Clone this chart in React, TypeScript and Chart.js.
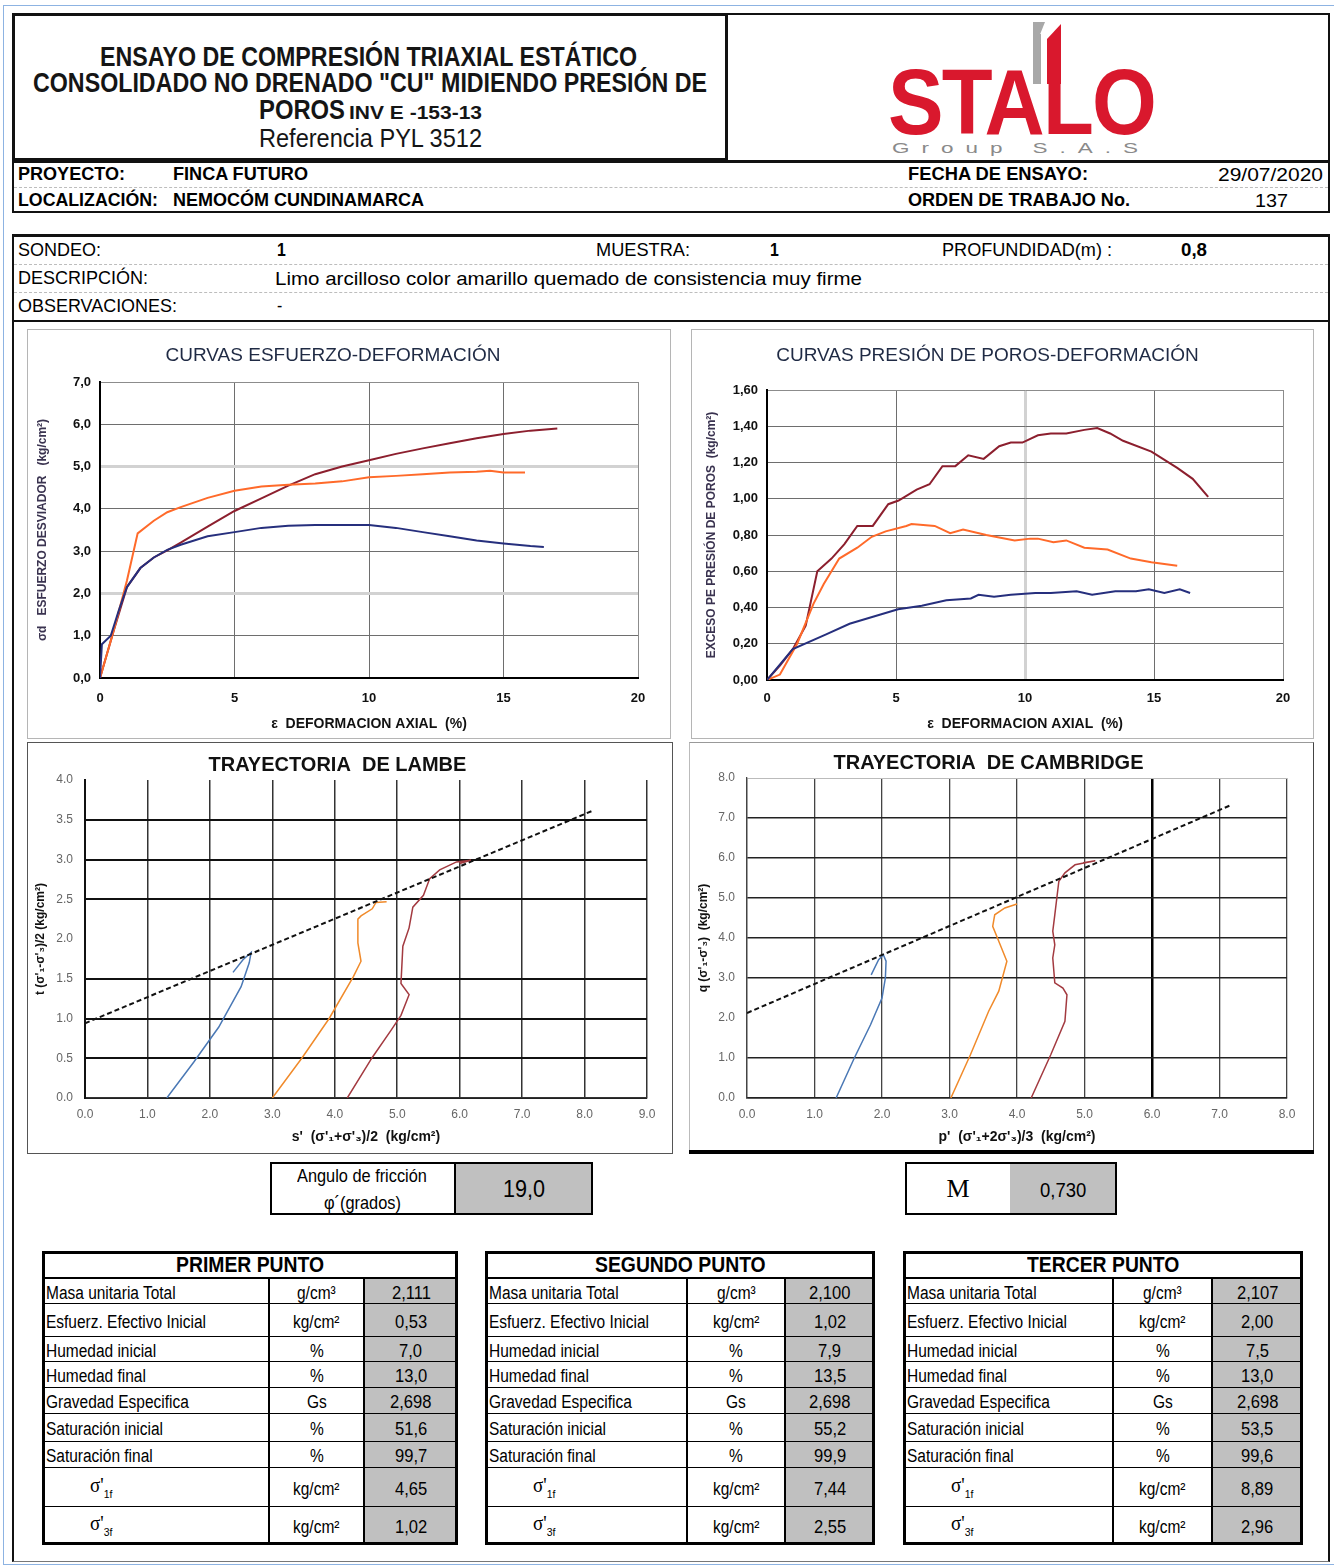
import React, { useEffect, useLayoutEffect, useRef } from "react";
import { Chart, registerables } from "chart.js";
Chart.register(...registerables);

const SANS = '"Liberation Sans", Arial, Helvetica, sans-serif';
const SERIF = '"Liberation Serif", "DejaVu Serif", serif';

// ---------------- DATA ----------------
// Curvas esfuerzo-deformación (ε %, σd kg/cm²)
const esfX1 = [0, 0.07, 0.4, 0.7, 1.0, 1.5, 2, 2.5, 3, 4, 5, 6, 7, 8, 9, 10, 11, 12, 13, 14, 15, 16, 16.5];
const esfY1 = [0, 0.8, 1.0, 1.6, 2.15, 2.6, 2.85, 3.03, 3.15, 3.35, 3.45, 3.55, 3.6, 3.62, 3.62, 3.62, 3.55, 3.45, 3.35, 3.25, 3.18, 3.12, 3.1];
const esfX2 = [0, 0.5, 1.0, 1.4, 2, 2.5, 3, 4, 5, 6, 7, 8, 9, 10, 11, 12, 13, 14, 14.5, 15, 15.8];
const esfY2 = [0, 1.1, 2.3, 3.42, 3.72, 3.92, 4.04, 4.26, 4.43, 4.53, 4.57, 4.6, 4.65, 4.75, 4.78, 4.82, 4.86, 4.88, 4.9, 4.86, 4.86];
const esfX3 = [0, 0.5, 1, 1.5, 2, 2.5, 3, 4, 5, 6, 7, 8, 9, 10, 11, 12, 13, 14, 15, 16, 17];
const esfY3 = [0, 1.1, 2.15, 2.6, 2.85, 3.02, 3.2, 3.58, 3.95, 4.25, 4.55, 4.82, 5.0, 5.15, 5.3, 5.43, 5.55, 5.67, 5.77, 5.85, 5.9];

// Curvas presión de poros-deformación (ε %, Δu kg/cm²)
const porX1 = [0, 1, 2.27, 3.2, 4.14, 5.08, 6, 6.95, 7.9, 8.2, 8.8, 9.45, 10.4, 11, 12, 12.6, 13.5, 14.3, 14.8, 15.4, 16, 16.4];
const porY1 = [0, 0.17, 0.25, 0.31, 0.35, 0.39, 0.41, 0.44, 0.45, 0.47, 0.46, 0.47, 0.48, 0.48, 0.49, 0.47, 0.49, 0.49, 0.5, 0.48, 0.5, 0.48];
const porX2 = [0, 0.5, 1.17, 1.8, 2.2, 2.8, 3.5, 4.06, 4.6, 5.4, 5.6, 6.5, 7.1, 7.6, 8.5, 9.6, 10.2, 10.5, 11.1, 11.6, 12.3, 13.2, 14.1, 14.9, 15.9];
const porY2 = [0, 0.03, 0.2, 0.42, 0.53, 0.67, 0.73, 0.79, 0.82, 0.85, 0.86, 0.85, 0.81, 0.83, 0.8, 0.77, 0.78, 0.78, 0.76, 0.77, 0.73, 0.72, 0.67, 0.65, 0.63];
const porX3 = [0, 0.5, 1, 1.5, 1.95, 2.5, 3, 3.5, 4.1, 4.7, 5.1, 5.8, 6.3, 6.8, 7.3, 7.8, 8.4, 9, 9.45, 9.9, 10.5, 11, 11.6, 12.3, 12.8, 13.3, 13.8, 14.9, 15.9, 16.5, 17.1];
const porY3 = [0, 0.08, 0.17, 0.3, 0.6, 0.67, 0.75, 0.85, 0.85, 0.97, 0.99, 1.05, 1.08, 1.18, 1.18, 1.24, 1.22, 1.29, 1.31, 1.31, 1.35, 1.36, 1.36, 1.38, 1.39, 1.36, 1.32, 1.26, 1.17, 1.11, 1.01];

// Trayectoria de Lambe (s', t)
const lambeKfS = [0, 8.15];
const lambeKfT = [0.94, 3.62];
const lambeS1 = [1.31, 1.74, 2.14, 2.5, 2.63, 2.66, 2.53, 2.37];
const lambeT1 = [0, 0.45, 0.89, 1.4, 1.7, 1.83, 1.74, 1.58];
const lambeS2 = [3.0, 3.48, 3.91, 4.3, 4.42, 4.37, 4.37, 4.42, 4.6, 4.66, 4.83];
const lambeT2 = [0, 0.51, 1.0, 1.53, 1.72, 1.95, 2.25, 2.29, 2.38, 2.46, 2.47];
const lambeS3 = [4.2, 4.6, 4.9, 5.06, 5.19, 5.06, 5.09, 5.19, 5.25, 5.42, 5.52, 5.68, 5.95, 6.18, 6.0];
const lambeT3 = [0, 0.51, 0.85, 1.04, 1.3, 1.44, 1.91, 2.14, 2.4, 2.55, 2.76, 2.87, 2.97, 2.99, 2.95];

// Trayectoria de Cambridge (p', q)
const camKfP = [0, 7.18];
const camKfQ = [2.125, 7.33];
const camP1 = [1.32, 1.59, 1.83, 2.0, 2.05, 2.06, 2.02, 1.95, 1.84];
const camQ1 = [0, 1.0, 1.83, 2.5, 3.0, 3.42, 3.58, 3.46, 3.08];
const camP2 = [3.02, 3.31, 3.58, 3.73, 3.85, 3.73, 3.64, 3.67, 3.82, 4.0];
const camQ2 = [0, 1.08, 2.17, 2.67, 3.42, 3.92, 4.29, 4.58, 4.75, 4.85];
const camP3 = [4.21, 4.5, 4.71, 4.74, 4.68, 4.56, 4.53, 4.56, 4.53, 4.56, 4.59, 4.62, 4.71, 4.86, 5.16, 4.98];
const camQ3 = [0, 1.08, 1.92, 2.58, 2.75, 2.88, 3.5, 3.83, 4.17, 4.58, 5.0, 5.42, 5.63, 5.83, 5.93, 5.88];

// Tablas
const rowLabels = ["Masa unitaria Total", "Esfuerz. Efectivo  Inicial", "Humedad inicial", "Humedad final", "Gravedad Especifica", "Saturación inicial", "Saturación final"];
const sigmaSubs = ["1f", "3f"];
const rowUnits = ["g/cm³", "kg/cm²", "%", "%", "Gs", "%", "%", "kg/cm²", "kg/cm²"];
const valuesP1 = ["2,111", "0,53", "7,0", "13,0", "2,698", "51,6", "99,7", "4,65", "1,02"];
const valuesP2 = ["2,100", "1,02", "7,9", "13,5", "2,698", "55,2", "99,9", "7,44", "2,55"];
const valuesP3 = ["2,107", "2,00", "7,5", "13,0", "2,698", "53,5", "99,6", "8,89", "2,96"];
const frictionAngle = "19,0";
const mValue = "0,730";

// ---------------- HELPERS ----------------
function Txt(props: any) {
  const { x, cx, rx, cy, size, w, sx = 0.88, weight = 400, color = "#000", family = SANS, children, style } = props;
  const ref = useRef<HTMLDivElement>(null);
  useLayoutEffect(() => {
    const el = ref.current;
    if (!el) return;
    el.style.transform = "none";
    const nat = el.getBoundingClientRect().width;
    const s = w ? w / nat : sx;
    const W = nat * s;
    let left = x ?? 0;
    if (cx !== undefined) left = cx - W / 2;
    if (rx !== undefined) left = rx - W;
    el.style.left = `${left}px`;
    el.style.transform = `scaleX(${s})`;
  });
  return (
    <div
      ref={ref}
      style={{
        position: "absolute", left: x ?? 0, top: cy - size * 0.5, fontSize: size, lineHeight: `${size}px`,
        fontWeight: weight, color, fontFamily: family, whiteSpace: "nowrap", transformOrigin: "0 0", ...style,
      }}
    >
      {children}
    </div>
  );
}

function Box({ l, t, w, h, style }: any) {
  return <div style={{ position: "absolute", left: l, top: t, width: w, height: h, boxSizing: "border-box", ...style }} />;
}

function pts(xs: number[], ys: number[]) {
  return xs.map((x, i) => ({ x, y: ys[i] }));
}

function lineDs(label: string, xs: number[], ys: number[], color: string, width = 2, dash: number[] = []) {
  return {
    label, data: pts(xs, ys), borderColor: color, backgroundColor: color, borderWidth: width,
    pointRadius: 0, showLine: true, tension: 0, fill: false, borderDash: dash,
  };
}

const comma = (d: number) => (v: any) => Number(v).toFixed(d).replace(".", ",");
const dot = (d: number) => (v: any) => Number(v).toFixed(d);
const near = (a: number, b: number) => Math.abs(a - b) < 1e-6;

function makeConfig(p: any) {
  return {
    type: "scatter",
    data: { datasets: p.datasets },
    options: {
      responsive: false, animation: false, devicePixelRatio: 1, events: [],
      layout: { padding: { left: 0, right: p.padRight, top: 0, bottom: 0 } },
      plugins: {
        legend: { display: false }, tooltip: { enabled: false },
        title: { display: true, text: p.title, color: p.titleColor, font: p.titleFont, padding: p.titlePad },
      },
      scales: {
        x: {
          type: "linear", position: "bottom", min: p.xMin, max: p.xMax,
          ticks: { stepSize: p.xStep, callback: p.xFmt, font: p.tickFont, color: p.tickColor, padding: p.xTickPad, maxRotation: 0, autoSkip: false },
          grid: { color: (c: any) => p.xGridColor(c.tick ? c.tick.value : 0), lineWidth: (c: any) => p.xGridWidth(c.tick ? c.tick.value : 0), drawTicks: false },
          border: { display: true, color: p.xBorderColor, width: p.xBorderWidth },
          title: { display: true, text: p.xTitle, font: p.axisTitleFont, color: p.xTitleColor, padding: { top: 0, bottom: p.xTitlePad } },
          afterFit: (s: any) => { s.height = p.xHeight; },
        },
        y: {
          type: "linear", position: "left", min: p.yMin, max: p.yMax,
          ticks: { stepSize: p.yStep, callback: p.yFmt, font: p.tickFont, color: p.tickColor, padding: p.yTickPad, autoSkip: false },
          grid: { color: (c: any) => p.yGridColor(c.tick ? c.tick.value : 0), lineWidth: (c: any) => p.yGridWidth(c.tick ? c.tick.value : 0), drawTicks: false },
          border: { display: true, color: p.yBorderColor, width: p.yBorderWidth },
          title: { display: true, text: p.yTitle, font: p.yTitleFont || p.axisTitleFont, color: p.yTitleColor, padding: { top: p.yTitlePad, bottom: 0 } },
          afterFit: (s: any) => { s.width = p.yWidth; },
        },
      },
    },
  };
}

function ChartCanvas({ left, top, width, height, config }: any) {
  const ref = useRef<HTMLCanvasElement>(null);
  useEffect(() => {
    const chart = new Chart(ref.current as HTMLCanvasElement, config);
    return () => chart.destroy();
  }, []);
  return <canvas ref={ref} width={width} height={height} style={{ position: "absolute", left, top, width, height }} />;
}

// colors
const NAVY = "#262f7d";
const ORANGE = "#ff6a2a";
const MAROON = "#8c1f2e";
const LBLUE = "#4a78b5";
const LORANGE = "#f08a2a";
const LBROWN = "#a33a40";
const GRID = "#6e6e6e";

const chart1 = makeConfig({
  datasets: [
    lineDs("Punto 1", esfX1, esfY1, NAVY),
    lineDs("Punto 2", esfX2, esfY2, ORANGE),
    lineDs("Punto 3", esfX3, esfY3, MAROON),
  ],
  padRight: 32,
  title: "CURVAS ESFUERZO-DEFORMACIÓN", titleColor: "#1f2a44",
  titleFont: { family: SANS, size: 19, weight: "normal" }, titlePad: { top: 14, bottom: 15.2 },
  xMin: 0, xMax: 20, xStep: 5, xFmt: dot(0), yMin: 0, yMax: 7, yStep: 1, yFmt: comma(1),
  tickFont: { family: SANS, size: 13, weight: "bold" }, tickColor: "#111",
  xTickPad: 13, yTickPad: 9,
  xGridColor: (v: number) => (near(v, 20) ? "#8c8c8c" : GRID), xGridWidth: () => 1,
  yGridColor: (v: number) => (near(v, 2) || near(v, 5) ? "#d2d2d2" : near(v, 7) ? "#8c8c8c" : GRID),
  yGridWidth: (v: number) => (near(v, 2) || near(v, 5) ? 3 : 1),
  xBorderColor: "#000", xBorderWidth: 2, yBorderColor: "#000", yBorderWidth: 2,
  xTitle: "ε  DEFORMACION AXIAL  (%)", xTitleColor: "#111", axisTitleFont: { family: SANS, size: 14, weight: "bold" },
  xTitlePad: 5, xHeight: 60,
  yTitle: "σd   ESFUERZO DESVIADOR   (kg/cm²)", yTitleColor: "#3a3350", yTitleFont: { family: SANS, size: 12, weight: "bold" },
  yTitlePad: 7, yWidth: 72,
});

const chart2 = makeConfig({
  datasets: [
    lineDs("Punto 1", porX1, porY1, NAVY),
    lineDs("Punto 2", porX2, porY2, ORANGE),
    lineDs("Punto 3", porX3, porY3, MAROON),
  ],
  padRight: 30,
  title: "CURVAS PRESIÓN DE POROS-DEFORMACIÓN", titleColor: "#1f2a44",
  titleFont: { family: SANS, size: 19, weight: "normal" }, titlePad: { top: 14, bottom: 23.2 },
  xMin: 0, xMax: 20, xStep: 5, xFmt: dot(0), yMin: 0, yMax: 1.6, yStep: 0.2, yFmt: comma(2),
  tickFont: { family: SANS, size: 13, weight: "bold" }, tickColor: "#111",
  xTickPad: 11, yTickPad: 9,
  xGridColor: (v: number) => (near(v, 10) ? "#d2d2d2" : near(v, 20) ? "#8c8c8c" : GRID),
  xGridWidth: (v: number) => (near(v, 10) ? 3 : 1),
  yGridColor: (v: number) => (near(v, 1.6) ? "#8c8c8c" : GRID), yGridWidth: () => 1,
  xBorderColor: "#000", xBorderWidth: 2, yBorderColor: "#000", yBorderWidth: 2,
  xTitle: "ε  DEFORMACION AXIAL  (%)", xTitleColor: "#111", axisTitleFont: { family: SANS, size: 14, weight: "bold" },
  xTitlePad: 5, xHeight: 58,
  yTitle: "EXCESO PE PRESIÓN DE POROS  (kg/cm²)", yTitleColor: "#3a3350", yTitleFont: { family: SANS, size: 12, weight: "bold" },
  yTitlePad: 12, yWidth: 75,
});

const chart3 = makeConfig({
  datasets: [
    lineDs("Kf", lambeKfS, lambeKfT, "#111", 2, [5, 3]),
    lineDs("Punto 1", lambeS1, lambeT1, LBLUE, 1.5),
    lineDs("Punto 2", lambeS2, lambeT2, LORANGE, 1.5),
    lineDs("Punto 3", lambeS3, lambeT3, LBROWN, 1.5),
  ],
  padRight: 25,
  title: "TRAYECTORIA  DE LAMBE", titleColor: "#111",
  titleFont: { family: SANS, size: 20, weight: "bold" }, titlePad: { top: 10, bottom: 3 },
  xMin: 0, xMax: 9, xStep: 1, xFmt: dot(1), yMin: 0, yMax: 4, yStep: 0.5, yFmt: dot(1),
  tickFont: { family: SANS, size: 12, weight: "normal" }, tickColor: "#666",
  xTickPad: 9, yTickPad: 12,
  xGridColor: () => "#333", xGridWidth: () => 1.5,
  yGridColor: (v: number) => (near(v, 2) || near(v, 4) ? "rgba(0,0,0,0)" : "#111"), yGridWidth: () => 2,
  xBorderColor: "#333", xBorderWidth: 1.5, yBorderColor: "#111", yBorderWidth: 2,
  xTitle: "s'  (σ'₁+σ'₃)/2  (kg/cm²)", xTitleColor: "#111", axisTitleFont: { family: SANS, size: 14, weight: "bold" },
  xTitlePad: 7, xHeight: 55,
  yTitle: "t (σ'₁-σ'₃)/2 (kg/cm²)", yTitleColor: "#111", yTitleFont: { family: SANS, size: 12, weight: "bold" },
  yTitlePad: 5, yWidth: 57,
});

const chart4 = makeConfig({
  datasets: [
    lineDs("M", camKfP, camKfQ, "#111", 2, [5, 3]),
    lineDs("Punto 1", camP1, camQ1, LBLUE, 1.5),
    lineDs("Punto 2", camP2, camQ2, LORANGE, 1.5),
    lineDs("Punto 3", camP3, camQ3, LBROWN, 1.5),
  ],
  padRight: 26,
  title: "TRAYECTORIA  DE CAMBRIDGE", titleColor: "#111",
  titleFont: { family: SANS, size: 20, weight: "bold" }, titlePad: { top: 8, bottom: 3 },
  xMin: 0, xMax: 8, xStep: 1, xFmt: dot(1), yMin: 0, yMax: 8, yStep: 1, yFmt: dot(1),
  tickFont: { family: SANS, size: 12, weight: "normal" }, tickColor: "#666",
  xTickPad: 9, yTickPad: 12,
  xGridColor: (v: number) => (near(v, 6) ? "#000" : "#444"), xGridWidth: (v: number) => (near(v, 6) ? 2.5 : 1.3),
  yGridColor: (v: number) => (near(v, 2) ? "rgba(0,0,0,0)" : near(v, 8) ? "#bbb" : "#222"),
  yGridWidth: (v: number) => (near(v, 8) ? 1 : 1.6),
  xBorderColor: "#222", xBorderWidth: 1.6, yBorderColor: "#444", yBorderWidth: 1.3,
  xTitle: "p'  (σ'₁+2σ'₃)/3  (kg/cm²)", xTitleColor: "#111", axisTitleFont: { family: SANS, size: 14, weight: "bold" },
  xTitlePad: 7, xHeight: 55,
  yTitle: "q (σ'₁-σ'₃)  (kg/cm²)", yTitleColor: "#111", yTitleFont: { family: SANS, size: 12, weight: "bold" },
  yTitlePad: 6, yWidth: 57,
});

// ---------------- TABLE ----------------
const ROW_EDGES = [1251, 1279, 1304, 1337, 1362, 1388, 1414, 1442, 1468, 1507, 1545];

function PointTable({ cols, title, values }: any) {
  const [a, b, c, d] = cols;
  const items: any[] = [];
  items.push(<Box key="hdr" l={a} t={ROW_EDGES[0]} w={d - a} h={ROW_EDGES[1] - ROW_EDGES[0]} style={{ borderBottom: "2px solid #000" }} />);
  items.push(<Txt key="ht" cx={(a + d) / 2} cy={(ROW_EDGES[0] + ROW_EDGES[1]) / 2} size={22} weight={700} sx={0.88}>{title}</Txt>);
  for (let i = 0; i < 9; i++) {
    const y0 = ROW_EDGES[i + 1];
    const y1 = ROW_EDGES[i + 2];
    const cy = (y0 + y1) / 2 + 1;
    items.push(<Box key={"g" + i} l={c} t={y0} w={d - c} h={y1 - y0} style={{ background: "#c0c0c0" }} />);
    items.push(<Box key={"r" + i} l={a} t={y0} w={d - a} h={y1 - y0} style={{ borderBottom: "1.5px solid #000" }} />);
    if (i < 7) {
      items.push(<Txt key={"l" + i} x={a + 4} cy={cy} size={18} sx={0.86}>{rowLabels[i]}</Txt>);
    } else {
      items.push(
        <Txt key={"l" + i} x={a + 48} cy={cy - 4} size={20} sx={0.95} family={SERIF}>
          σ'<span style={{ fontSize: 11, fontFamily: SANS, position: "relative", top: 6 }}>{sigmaSubs[i - 7]}</span>
        </Txt>
      );
    }
    items.push(<Txt key={"u" + i} cx={(b + c) / 2} cy={cy} size={18} sx={0.86}>{rowUnits[i]}</Txt>);
    items.push(<Txt key={"v" + i} cx={(c + d) / 2} cy={cy} size={18} sx={0.92}>{values[i]}</Txt>);
  }
  items.push(<Box key="c1" l={b - 1} t={ROW_EDGES[1]} w={2} h={ROW_EDGES[10] - ROW_EDGES[1]} style={{ background: "#000" }} />);
  items.push(<Box key="c2" l={c - 1} t={ROW_EDGES[1]} w={2} h={ROW_EDGES[10] - ROW_EDGES[1]} style={{ background: "#000" }} />);
  items.push(<Box key="frame" l={a} t={ROW_EDGES[0]} w={d - a} h={ROW_EDGES[10] - ROW_EDGES[0]} style={{ border: "3px solid #000" }} />);
  return <>{items}</>;
}

// ---------------- APP ----------------
export default function App() {
  return (
    <div style={{ position: "absolute", left: 0, top: 0, width: 1334, height: 1568, background: "#fff", overflow: "hidden", fontFamily: SANS }}>
      {/* page outline */}
      <Box l={3} t={5} w={1340} h={1560} style={{ border: "1px solid #8db3e2" }} />

      {/* header */}
      <Box l={12} t={13} w={1318} h={148} style={{ borderTop: "2px solid #111", borderLeft: "3px solid #111", borderRight: "2px solid #111" }} />
      <Box l={12} t={13} w={716} h={148} style={{ border: "3px solid #111" }} />
      <Txt x={100} w={537} cy={57} size={27} weight={700} color="#151515">ENSAYO DE COMPRESIÓN TRIAXIAL ESTÁTICO</Txt>
      <Txt x={33} w={674} cy={83} size={27} weight={700} color="#151515">CONSOLIDADO NO  DRENADO "CU" MIDIENDO PRESIÓN DE</Txt>
      <Txt x={259} w={86} cy={110} size={27} weight={700} color="#151515">POROS</Txt>
      <Txt x={349} w={133} cy={112} size={19} weight={700} color="#151515">INV E -153-13</Txt>
      <Txt x={259} w={223} cy={138} size={25} color="#151515">Referencia PYL 3512</Txt>

      {/* logo */}
      <div style={{ position: "absolute", left: 1033, top: 22, width: 0, height: 0, borderLeft: "12px solid #a8a8a8", borderBottom: "30px solid transparent" }} />
      <Box l={1033} t={34} w={8} h={50} style={{ background: "#a8a8a8" }} />
      <div style={{ position: "absolute", left: 1047, top: 24, width: 14, height: 60, background: "#d9182d", clipPath: "polygon(0 25%, 100% 0, 100% 100%, 0 100%)" }} />
      <Txt x={888} w={267} cy={102} size={92} weight={900} color="#d9182d" style={{ letterSpacing: -2 }}>STALO</Txt>
      <Txt x={892} w={258} cy={147} size={15} color="#8a8a8a" style={{ letterSpacing: 8 }}>Group S.A.S</Txt>

      {/* project rows */}
      <Box l={12} t={160} w={1318} h={53} style={{ border: "2px solid #111", borderTop: "3px solid #111" }} />
      <Box l={14} t={187} w={1314} h={1} style={{ borderTop: "1px dashed #bdbdbd" }} />
      <Txt x={18} w={107} cy={174} size={18} weight={700}>PROYECTO:</Txt>
      <Txt x={173} w={135} cy={174} size={18} weight={700}>FINCA FUTURO</Txt>
      <Txt x={908} w={180} cy={174} size={18} weight={700}>FECHA DE ENSAYO:</Txt>
      <Txt rx={1323} w={105} cy={174} size={19}>29/07/2020</Txt>
      <Txt x={18} w={140} cy={200} size={18} weight={700}>LOCALIZACIÓN:</Txt>
      <Txt x={173} w={251} cy={200} size={18} weight={700}>NEMOCÓM CUNDINAMARCA</Txt>
      <Txt x={908} w={222} cy={200} size={18} weight={700}>ORDEN DE TRABAJO No.</Txt>
      <Txt x={1255} w={33} cy={200} size={19}>137</Txt>

      {/* sample rows */}
      <Box l={12} t={234} w={1318} h={88} style={{ borderTop: "3px solid #111", borderBottom: "2px solid #111", borderLeft: "2px solid #111", borderRight: "2px solid #111" }} />
      <Box l={14} t={264} w={1314} h={1} style={{ borderTop: "1px dashed #bdbdbd" }} />
      <Box l={14} t={292} w={1314} h={1} style={{ borderTop: "1px dashed #bdbdbd" }} />
      <Txt x={18} w={83} cy={250} size={18}>SONDEO:</Txt>
      <Txt x={277} cy={250} size={18} weight={700}>1</Txt>
      <Txt x={596} w={94} cy={250} size={18}>MUESTRA:</Txt>
      <Txt x={770} cy={250} size={18} weight={700}>1</Txt>
      <Txt x={942} w={170} cy={250} size={18}>PROFUNDIDAD(m) :</Txt>
      <Txt x={1181} w={26} cy={250} size={18} weight={700}>0,8</Txt>
      <Txt x={18} w={130} cy={278} size={18}>DESCRIPCIÓN:</Txt>
      <Txt x={275} w={587} cy={278} size={19}>Limo arcilloso color amarillo quemado de consistencia muy firme</Txt>
      <Txt x={18} w={159} cy={306} size={18}>OBSERVACIONES:</Txt>
      <Txt x={277} cy={306} size={18}>-</Txt>

      {/* frame around lower content */}
      <Box l={12} t={320} w={1318} h={1242} style={{ borderLeft: "2px solid #111", borderRight: "2px solid #111", borderBottom: "1px solid #777" }} />

      {/* charts */}
      <Box l={27} t={329} w={644} h={410} style={{ border: "1px solid #b5b5b5" }} />
      <ChartCanvas left={28} top={330} width={642} height={408} config={chart1} />
      <Box l={691} t={329} w={623} h={410} style={{ border: "1px solid #b5b5b5" }} />
      <ChartCanvas left={692} top={330} width={621} height={408} config={chart2} />
      <Box l={27} t={742} w={646} h={412} style={{ border: "1px solid #555" }} />
      <ChartCanvas left={28} top={743} width={644} height={410} config={chart3} />
      <Box l={689} t={742} w={625} h={412} style={{ borderTop: "1px solid #999", borderLeft: "1px solid #bbb", borderRight: "1px solid #444" }} />
      <ChartCanvas left={690} top={743} width={623} height={410} config={chart4} />
      <Box l={689} t={1150} w={625} h={4} style={{ background: "#000" }} />

      {/* friction angle */}
      <Box l={455} t={1162} w={138} h={53} style={{ background: "#c0c0c0" }} />
      <Box l={454} t={1162} w={2} h={53} style={{ background: "#000" }} />
      <Box l={270} t={1162} w={323} h={53} style={{ border: "2px solid #000" }} />
      <Txt cx={362} cy={1175} size={19} sx={0.86}>Angulo de fricción</Txt>
      <Txt cx={362} cy={1202} size={19} sx={0.86}>φ´(grados)</Txt>
      <Txt cx={524} cy={1189} size={24} sx={0.9}>{frictionAngle}</Txt>

      {/* M */}
      <Box l={1010} t={1162} w={107} h={53} style={{ background: "#c0c0c0" }} />
      <Box l={905} t={1162} w={212} h={53} style={{ border: "2px solid #000" }} />
      <Txt cx={958} cy={1189} size={26} sx={1} family={SERIF}>M</Txt>
      <Txt cx={1063} cy={1189} size={21} sx={0.88}>{mValue}</Txt>

      {/* tables */}
      <PointTable cols={[42, 269, 364, 458]} title="PRIMER PUNTO" values={valuesP1} />
      <PointTable cols={[485, 687, 785, 875]} title="SEGUNDO PUNTO" values={valuesP2} />
      <PointTable cols={[903, 1113, 1212, 1303]} title="TERCER PUNTO" values={valuesP3} />
    </div>
  );
}
